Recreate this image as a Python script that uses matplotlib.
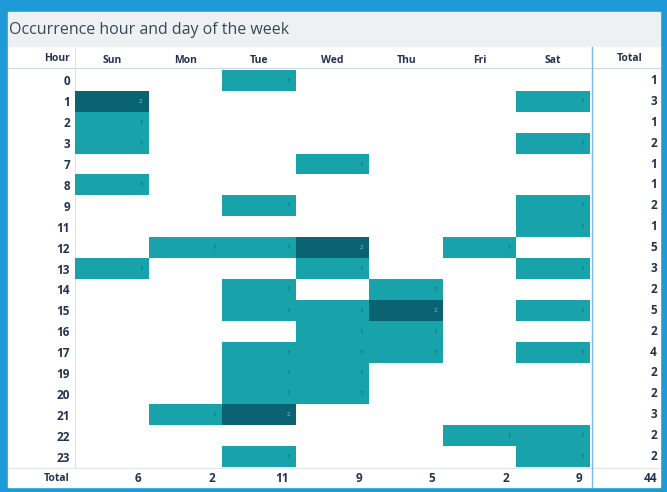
import numpy as np
import matplotlib
matplotlib.use('Agg')
import matplotlib.pyplot as plt
import matplotlib.transforms as mtrans
from matplotlib.colors import ListedColormap, BoundaryNorm
from matplotlib.patches import Rectangle
from matplotlib.lines import Line2D

plt.rcParams['font.family'] = ['Open Sans', 'DejaVu Sans']

hours = [0, 1, 2, 3, 7, 8, 9, 11, 12, 13, 14, 15, 16, 17, 19, 20, 21, 22, 23]
days = ['Sun', 'Mon', 'Tue', 'Wed', 'Thu', 'Fri', 'Sat']
# occurrences per hour (rows) and day (columns)
counts = [
    [0, 0, 1, 0, 0, 0, 0],  # 0
    [2, 0, 0, 0, 0, 0, 1],  # 1
    [1, 0, 0, 0, 0, 0, 0],  # 2
    [1, 0, 0, 0, 0, 0, 1],  # 3
    [0, 0, 0, 1, 0, 0, 0],  # 7
    [1, 0, 0, 0, 0, 0, 0],  # 8
    [0, 0, 1, 0, 0, 0, 1],  # 9
    [0, 0, 0, 0, 0, 0, 1],  # 11
    [0, 1, 1, 2, 0, 1, 0],  # 12
    [1, 0, 0, 1, 0, 0, 1],  # 13
    [0, 0, 1, 0, 1, 0, 0],  # 14
    [0, 0, 1, 1, 2, 0, 1],  # 15
    [0, 0, 0, 1, 1, 0, 0],  # 16
    [0, 0, 1, 1, 1, 0, 1],  # 17
    [0, 0, 1, 1, 0, 0, 0],  # 19
    [0, 0, 1, 1, 0, 0, 0],  # 20
    [0, 1, 2, 0, 0, 0, 0],  # 21
    [0, 0, 0, 0, 0, 1, 1],  # 22
    [0, 0, 1, 0, 0, 0, 1],  # 23
]

data = np.array(counts)
row_totals = data.sum(axis=1)
col_totals = data.sum(axis=0)

W, H = 667, 492
fig = plt.figure(figsize=(W / 100, H / 100), dpi=100, facecolor='#1e9bd6')

def fx(px):
    return px / W

def fy(py):
    return 1 - py / H

# panel backgrounds
fig.patches.append(Rectangle((fx(8), fy(487)), fx(652), (487 - 46) / H,
                             transform=fig.transFigure, color='white', zorder=-3))
fig.patches.append(Rectangle((fx(8), fy(46)), fx(652), (46 - 12) / H,
                             transform=fig.transFigure, color='#eef1f4', zorder=-3))
fig.text(fx(9), fy(30), 'Occurrence hour and day of the week', fontsize=11.5,
         color='#3b4656', va='center', ha='left')

# grid lines
def fig_line(xs, ys, color, lw):
    fig.lines.append(Line2D([fx(x) for x in xs], [fy(y) for y in ys],
                            transform=fig.transFigure, color=color, lw=lw, zorder=-2))

fig_line([8, 660], [68, 68], '#cfd5dc', 0.8)
fig_line([8, 660], [468, 468], '#e1e5ea', 0.8)
fig_line([75, 75], [48, 468], '#dde2e8', 0.8)
fig_line([592, 592], [47, 487], '#7db6df', 1.0)

ax = fig.add_axes([fx(75), fy(467), fx(590 - 75), (467 - 70) / H])
ax.set_facecolor('none')

cmap = ListedColormap(['#17a3a9', '#0a6373'])
norm = BoundaryNorm([0.5, 1.5, 2.5], cmap.N)
masked = np.ma.masked_equal(data, 0)
ax.pcolormesh(np.arange(len(days) + 1) - 0.5, np.arange(len(hours) + 1) - 0.5,
              masked, cmap=cmap, norm=norm, edgecolors='none')
ax.set_xlim(-0.5, len(days) - 0.5)
ax.set_ylim(len(hours) - 0.5, -0.5)

for i in range(len(hours)):
    for j in range(len(days)):
        v = data[i, j]
        if v:
            ax.text(j + 0.42, i, str(v), ha='right', va='center', fontsize=4.5,
                    color='#7fc9cc' if v > 1 else '#0b5e66')

lab_color = '#233250'
ax.set_yticks(range(len(hours)))
ax.set_yticklabels([str(h) for h in hours], fontsize=8.5, fontweight='bold', color=lab_color)
ax.xaxis.tick_top()
ax.set_xticks(range(len(days)))
ax.set_xticklabels(days, fontsize=7.5, fontweight='bold', color=lab_color)
ax.tick_params(length=0)
ax.tick_params(axis='y', pad=3.6)
ax.tick_params(axis='x', pad=3.2)
for s in ax.spines.values():
    s.set_visible(False)

trans = mtrans.blended_transform_factory(fig.transFigure, ax.transData)
hdr_y = -0.5 - 12 / 20.9
ax.text(fx(70), hdr_y, 'Hour', transform=trans, ha='right', va='center',
        fontsize=7.5, fontweight='bold', color=lab_color, clip_on=False)
ax.text(fx(630), hdr_y, 'Total', transform=trans, ha='center', va='center',
        fontsize=7.5, fontweight='bold', color=lab_color, clip_on=False)

for i, t in enumerate(row_totals):
    ax.text(fx(657), i, str(t), transform=trans, ha='right', va='center',
            fontsize=8.5, fontweight='bold', color=lab_color, clip_on=False)

tot_y = len(hours) + 0.05
ax.text(fx(70), tot_y, 'Total', transform=trans, ha='right', va='center',
        fontsize=7.5, fontweight='bold', color=lab_color, clip_on=False)
for j, t in enumerate(col_totals):
    ax.text(j + 0.4, tot_y, str(t), ha='right', va='center', fontsize=8.5,
            fontweight='bold', color=lab_color, clip_on=False)
ax.text(fx(657), tot_y, str(col_totals.sum()), transform=trans, ha='right', va='center',
        fontsize=8.5, fontweight='bold', color=lab_color, clip_on=False)

fig.savefig('out.png', dpi=100, facecolor=fig.get_facecolor())
